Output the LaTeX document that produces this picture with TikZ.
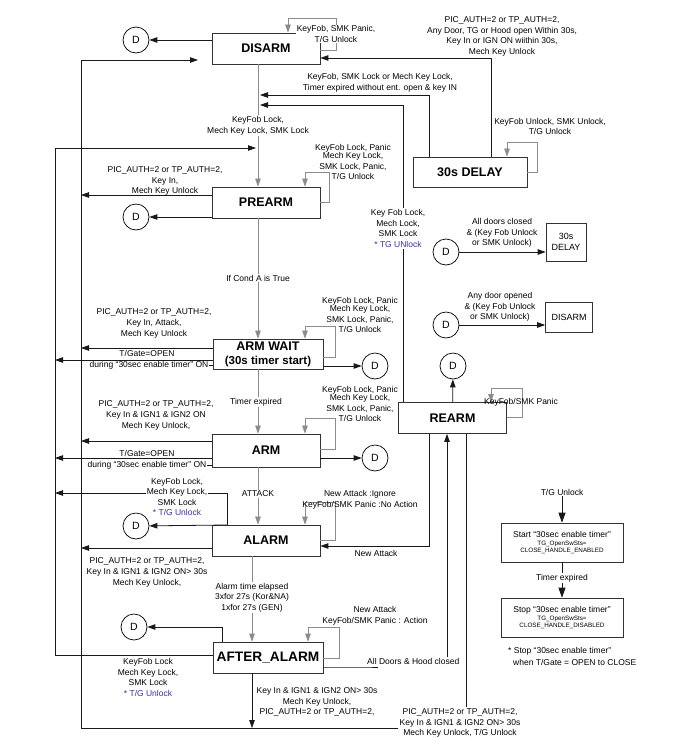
\documentclass[tikz,border=0pt]{standalone}
\usepackage{fontspec}
\setmainfont{Liberation Sans}
\usetikzlibrary{arrows.meta}
\definecolor{tgblue}{RGB}{55,45,170}

\begin{document}
\begin{tikzpicture}[x=1pt, y=-1pt, >={Triangle[length=8pt,width=5.5pt]},
    every node/.style={inner sep=1pt, text centered},
    stbox/.style={draw=black!80, line width=0.7pt, minimum width=108pt, minimum height=31pt, inner sep=0pt, align=center, font=\fontsize{12.5}{14}\selectfont\bfseries},
    dcirc/.style={circle, draw, line width=0.7pt, minimum size=26pt, inner sep=0pt, font=\fontsize{10.5}{12}\selectfont},
    lbl/.style={align=center, font=\fontsize{8.5}{10.6}\selectfont},
    minibox/.style={draw=black!80, line width=0.6pt, align=center, inner sep=0pt, font=\fontsize{9}{11}\selectfont},
    wire/.style={draw=black!90, line width=0.8pt},
    gwire/.style={draw=black!45, line width=0.6pt}]
    \useasboundingbox (0,0) rectangle (700,753);

    % States (main column)
    \node[stbox] (disarm) at (266,48.5) {DISARM};
    \node[stbox] (prearm) at (266,202.5) {PREARM};
    \node[stbox, minimum width=110pt, minimum height=30pt] (armwait) at (268,354) {ARM WAIT\\{\fontsize{11.5}{13}\selectfont (30s timer start)}};
    \node[stbox, minimum height=33pt] (arm) at (266,450.5) {ARM};
    \node[stbox] (alarm) at (266,540.5) {ALARM};
    \node[stbox, minimum width=110pt, font=\fontsize{13.7}{15}\selectfont\bfseries] (afteralarm) at (268,657.5) {AFTER\_ALARM};
    \node[stbox, minimum width=114pt, minimum height=30pt] (delay) at (470,172) {30s DELAY};
    \node[stbox] (rearm) at (452.5,418) {REARM};

    % D circles
    \node[dcirc] (D-1) at (136,40) {D};
    \node[dcirc] (D-2) at (136,217) {D};
    \node[dcirc] (D-3) at (375,366) {D};
    \node[dcirc] (D-4) at (375,458) {D};
    \node[dcirc] (D-5) at (136,526) {D};
    \node[dcirc] (D-6) at (453,366) {D};
    \node[dcirc] (D-7) at (134,627) {D};
    \node[dcirc] (D-8) at (446,252) {D};
    \node[dcirc] (D-9) at (446,325) {D};

    % Legend boxes (right)
    \node[minibox, minimum width=40pt, minimum height=38pt] (mini-delay) at (566,242) {30s\\DELAY};
    \node[minibox, minimum width=47pt, minimum height=30pt] (mini-disarm) at (569,317) {DISARM};
    \node[minibox, minimum width=122pt, minimum height=39pt, font=\fontsize{6.3}{7.5}\selectfont] (tmr-start) at (562,542.5) {{\fontsize{8.5}{10}\selectfont Start “30sec enable timer”}\\[0.5pt]TG\_OpenSwSts=\\CLOSE\_HANDLE\_ENABLED};
    \node[minibox, minimum width=122pt, minimum height=39pt, font=\fontsize{6.3}{7.5}\selectfont] (tmr-stop) at (562,617.5) {{\fontsize{8.5}{10}\selectfont Stop “30sec enable timer”}\\[0.5pt]TG\_OpenSwSts=\\CLOSE\_HANDLE\_DISABLED};

    % Rails and joints
    \coordinate (L1) at (81,728);
    \coordinate (L2) at (55,655);
    \coordinate (j-disarm) at (198,60);
    \coordinate (j-prearm) at (256,148);
    \coordinate (j-95) at (260,95);
    \coordinate (j-105) at (260,105);
    \coordinate (A1) at (227,525);

    % Labels that connectors meet
    \node[lbl] (l-aw-during) at (149,365) {during “30sec enable timer” ON};
    \node[lbl] (l-arm-during) at (147,465) {during “30sec enable timer” ON};
    \node[lbl, anchor=west] (l-closed) at (366,661) {All Doors \& Hood closed};
    \node[lbl] (l-rearm-down) at (460,723) {PIC\_AUTH=2 or TP\_AUTH=2,\\Key In \& IGN1 \& IGN2 ON> 30s\\Mech Key Unlock, T/G Unlock};
    \node[lbl] (l-tg) at (562,492) {T/G Unlock};

    % DISARM
    \draw[wire, ->] (disarm.west |- D-1) -- (D-1);
    \draw[gwire, ->] (disarm.east |- 0,50) -| (336,18) -| (disarm.north -| 288,0);
    \draw[gwire, ->] (disarm.south -| 258,0) -- (prearm.north -| 258,0);
    \draw[wire, ->] (L1) |- (j-disarm);
    \draw[wire, ->] (afteralarm.west |- 0,655) -- (L2) |- (j-prearm);

    % 30s DELAY
    \draw[wire, ->] (delay.north -| 491,0) |- (disarm.east |- 0,58);
    \draw[wire, ->] (delay.north -| 429,0) |- (j-95);
    \draw[gwire, ->] (delay.east |- 0,172) -| (537,142) -| (delay.north -| 507,0);

    % PREARM
    \draw[wire, ->] (prearm.west |- 0,195) -- (0,195 -| L1);
    \draw[wire, ->] (prearm.west |- D-2) -- (D-2);
    \draw[gwire, ->] (prearm.east |- 0,202) -| (329,172) -| (prearm.north -| 305,0);
    \draw[gwire, ->] (prearm.south -| 258,0) -- (armwait.north -| 258,0);

    % ARM WAIT
    \draw[wire, ->] (armwait.west |- 0,348) -- (0,348 -| L1);
    \draw[wire, ->] (armwait.west |- 0,360) -- (0,360 -| L2);
    \draw[wire] (l-aw-during.east) -- (armwait.west |- l-aw-during.east);
    \draw[wire, ->] (armwait.east |- D-3) -- (D-3);
    \draw[gwire, ->] (armwait.east |- 0,357) -| (335,326) -| (armwait.north -| 305,0);
    \draw[gwire, ->] (armwait.south -| 258,0) -- (arm.north -| 258,0);

    % ARM
    \draw[wire, ->] (arm.west |- 0,441) -- (0,441 -| L1);
    \draw[wire, ->] (arm.west |- 0,458) -- (0,458 -| L2);
    \draw[wire] (l-arm-during.east) -- (arm.west |- l-arm-during.east);
    \draw[wire, ->] (arm.east |- D-4) -- (D-4);
    \draw[gwire, ->] (arm.east |- 0,449) -| (335,418) -| (arm.north -| 305,0);
    \draw[gwire, ->] (arm.south -| 258,0) -- (alarm.north -| 258,0);

    % ALARM
    \draw[wire, ->] (A1) |- (0,493 -| L2);
    \draw[wire, ->] (A1) -- (D-5);
    \draw[wire, ->] (alarm.west |- 0,548) -- (0,548 -| L1);
    \draw[gwire, ->] (alarm.east |- 0,540) -| (335,502) -| (alarm.north -| 305,0);
    \draw[gwire, ->] (alarm.south -| 252,0) -- (afteralarm.north -| 252,0);

    % AFTER_ALARM
    \draw[wire, ->] (afteralarm.north -| 222,0) |- (D-7);
    \draw[gwire, ->] (afteralarm.east |- 0,658) -| (339,627) -| (afteralarm.north -| 308,0);
    \draw[wire] (afteralarm.east |- 0,667) -- (l-closed.west |- 0,667) -- ++(12,0);
    \draw[wire, ->] (l-closed.north -| 447,0) -- (rearm.south -| 447,0);
    \draw[wire, ->] (afteralarm.south -| 252,0) -- (L1 -| 252,0);

    % REARM
    \draw[wire, ->] (rearm.north -| 403,0) |- (j-105);
    \draw[wire, ->] (rearm) -- (D-6);
    \draw[gwire, ->] (rearm.east |- 0,417) -| (522,388) -| (rearm.north -| 491,0);
    \draw[wire, ->] (rearm.south -| 429,0) |- (alarm.east |- 0,546);
    \draw[wire] (rearm.south -| 466,0) -- (l-rearm-down.north -| 466,0);
    \draw[wire] (l-rearm-down.west |- 0,728) -- (L1);

    % Legend
    \draw[wire, ->] (D-8) -- (mini-delay.west |- D-8);
    \draw[wire, ->] (D-9) -- (mini-disarm.west |- D-9);
    \draw[wire, -{Triangle[length=10pt,width=7pt]}] (l-tg) -- (tmr-start);
    \draw[wire, -{Triangle[length=10pt,width=7pt]}] (tmr-start) -- (tmr-stop);

    % Transition labels
    \node[lbl, fill=white] (l-disarm-loop) at (336,34) {KeyFob, SMK Panic,\\T/G Unlock};
    \node[lbl] (l-delay-disarm) at (502,36.5) {PIC\_AUTH=2 or TP\_AUTH=2,\\Any Door, TG or Hood open Within 30s,\\Key In or IGN ON wiithin 30s,\\Mech Key Unlock};
    \node[lbl] (l-delay-lock) at (380,83) {KeyFob, SMK Lock or Mech Key Lock,\\Timer expired without ent. open \& key IN};
    \node[lbl] (l-delay-loop) at (550,126.5) {KeyFob Unlock, SMK Unlock,\\T/G Unlock};
    \node[lbl, fill=white] (l-rearm-up) at (398,228.5) {Key Fob Lock,\\Mech Lock,\\SMK Lock\\\textcolor{tgblue}{* TG UNlock}};
    \node[lbl, fill=white] (l-disarm-prearm) at (258,125.5) {KeyFob Lock,\\Mech Key Lock, SMK Lock};
    \node[lbl] (l-prearm-left) at (165,181) {PIC\_AUTH=2 or TP\_AUTH=2,\\Key In,\\Mech Key Unlock};
    \node[lbl] (l-prearm-loop) at (353,162) {KeyFob Lock, Panic\\[-2.5pt]Mech Key Lock,\\SMK Lock, Panic,\\T/G Unlock};
    \node[lbl, fill=white] (l-conda) at (258,278) {If Cond A is True};
    \node[lbl] (l-aw-left) at (154,323.5) {PIC\_AUTH=2 or TP\_AUTH=2,\\Key In, Attack,\\Mech Key Unlock};
    \node[lbl] (l-aw-gate) at (147,353) {T/Gate=OPEN};
    \node[lbl] (l-aw-loop) at (360,315) {KeyFob Lock, Panic\\[-2.5pt]Mech Key Lock,\\SMK Lock, Panic,\\T/G Unlock};
    \node[lbl, fill=white] (l-expired) at (256,402) {Timer expired};
    \node[lbl] (l-arm-left) at (156,415.5) {PIC\_AUTH=2 or TP\_AUTH=2,\\Key In \& IGN1 \& IGN2 ON\\Mech Key Unlock,};
    \node[lbl] (l-arm-gate) at (147,453) {T/Gate=OPEN};
    \node[lbl] (l-arm-loop) at (360,404) {KeyFob Lock, Panic\\[-2.5pt]Mech Key Lock,\\SMK Lock, Panic,\\T/G Unlock};
    \node[lbl, fill=white] (l-attack) at (258,494) {ATTACK};
    \node[lbl, fill=white] (l-alarm-up) at (177,497) {KeyFob Lock,\\Mech Key Lock,\\SMK Lock\\\textcolor{tgblue}{* T/G Unlock}};
    \node[lbl] (l-alarm-left) at (147,572.5) {PIC\_AUTH=2 or TP\_AUTH=2,\\Key In \& IGN1 \& IGN2 ON> 30s\\Mech Key Unlock,};
    \node[lbl] (l-alarm-loop) at (360,500) {New Attack :Ignore\\KeyFob/SMK Panic :No Action};
    \node[lbl] (l-newattack) at (376,553) {New Attack};
    \node[lbl, fill=white] (l-elapsed) at (252,597.5) {Alarm time elapsed\\3xfor 27s (Kor\&NA)\\1xfor 27s (GEN)};
    \node[lbl] (l-after-loop) at (375,616) {New Attack\\KeyFob/SMK Panic : Action};
    \node[lbl] (l-after-left) at (148,677.5) {KeyFob Lock\\Mech Key Lock,\\SMK Lock\\\textcolor{tgblue}{* T/G Unlock}};
    \node[lbl] (l-after-down) at (317,702) {Key In \& IGN1 \& IGN2 ON> 30s\\Mech Key Unlock,\\PIC\_AUTH=2 or TP\_AUTH=2,};
    \node[lbl] (l-rearm-loop) at (521,402) {KeyFob/SMK Panic};
    \node[lbl] (l-doors-closed) at (502,233) {All doors closed\\\& (Key Fob Unlock\\or SMK Unlock)};
    \node[lbl] (l-door-opened) at (500,307) {Any door opened\\\& (Key Fob Unlock\\or SMK Unlock)};
    \node[lbl, fill=white] (l-tmr-expired) at (562,578) {Timer expired};
    \node[lbl, anchor=west] (l-note-1) at (507,651) {* Stop “30sec enable timer”};
    \node[lbl, anchor=west] (l-note-2) at (512,662) {when T/Gate = OPEN to CLOSE};
\end{tikzpicture}
\end{document}
